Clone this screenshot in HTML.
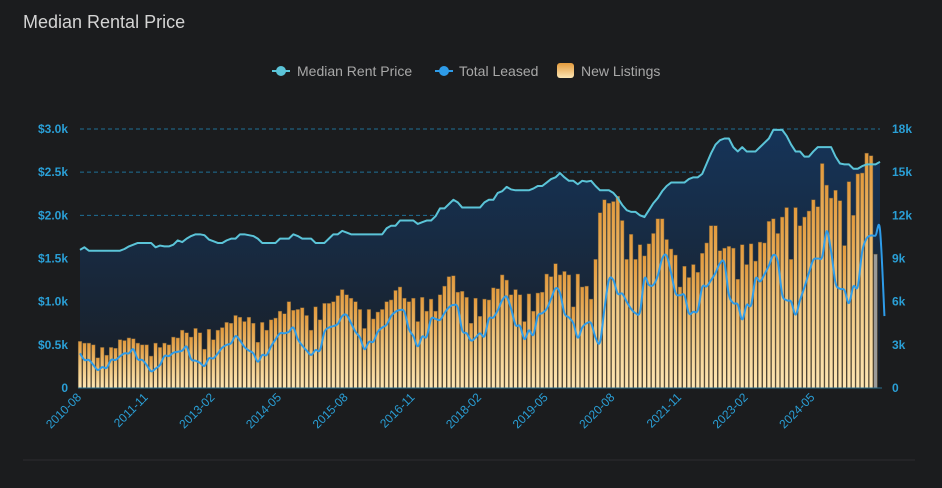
<!DOCTYPE html>
<html><head><meta charset="utf-8"><style>
html,body{margin:0;padding:0;background:#1b1c1e;}
body{width:942px;height:483px;overflow:hidden;font-family:"Liberation Sans","DejaVu Sans",sans-serif;}
</style></head><body>
<svg id="chart" width="942" height="483" xmlns="http://www.w3.org/2000/svg">
<defs>
<linearGradient id="barGrad" x1="0" y1="0" x2="0" y2="1">
<stop offset="0" stop-color="#e39a3c"/><stop offset="0.5" stop-color="#efc57e"/><stop offset="1" stop-color="#fde6b4"/>
</linearGradient>
<linearGradient id="areaGrad" x1="0" y1="0" x2="0" y2="1">
<stop offset="0" stop-color="#153459"/><stop offset="1" stop-color="#1a1e24"/>
</linearGradient>
<linearGradient id="legBar" x1="0" y1="0" x2="0" y2="1">
<stop offset="0" stop-color="#e39a3c"/><stop offset="1" stop-color="#fde6b4"/>
</linearGradient>
</defs>
<text x="23" y="28" fill="#d4d4d4" font-size="18">Median Rental Price</text>
<g>
<g>
<line x1="272" y1="71" x2="290" y2="71" stroke="#5bc4d8" stroke-width="2"/><circle cx="281" cy="71" r="5" fill="#5bc4d8"/>
<text x="297" y="76" fill="#a8a8a8" font-size="14">Median Rent Price</text></g>
<g>
<line x1="435" y1="71" x2="453" y2="71" stroke="#2e9be8" stroke-width="2"/><circle cx="444" cy="71" r="5" fill="#2e9be8"/>
<text x="459" y="76" fill="#a8a8a8" font-size="14">Total Leased</text></g>
<g>
<rect x="557" y="63" width="17" height="15" rx="3" fill="url(#legBar)"/>
<text x="581" y="76" fill="#a8a8a8" font-size="14">New Listings</text></g>
</g>
<g id="grid"></g><g id="area"></g><g id="bars"></g><g id="lines"></g><g id="axes"></g>
<line x1="23" y1="460" x2="915" y2="460" stroke="#2c2d30" stroke-width="1"/>
</svg>
<script>
const xLabels = ["2010-08","2011-11","2013-02","2014-05","2015-08","2016-11","2018-02","2019-05","2020-08","2021-11","2023-02","2024-05"];
const leftTicks = ["0","$0.5k","$1.0k","$1.5k","$2.0k","$2.5k","$3.0k"];
const rightTicks = ["0","3k","6k","9k","12k","15k","18k"];
const newListings = [0.54,0.52,0.52,0.50,0.35,0.47,0.38,0.47,0.46,0.56,0.55,0.58,0.57,0.52,0.50,0.50,0.37,0.52,0.47,0.52,0.50,0.59,0.58,0.67,0.64,0.59,0.69,0.64,0.45,0.68,0.56,0.67,0.70,0.76,0.75,0.84,0.82,0.77,0.82,0.75,0.53,0.76,0.67,0.79,
0.81,0.89,0.86,1.00,0.90,0.91,0.93,0.84,0.67,0.94,0.79,0.98,0.98,1.00,1.07,1.14,1.08,1.04,1.00,0.91,0.69,0.91,0.80,0.88,0.91,1.00,1.02,1.13,1.17,1.04,1.00,1.04,0.77,1.05,0.89,1.03,0.89,1.08,1.18,1.29,1.30,1.11,1.12,1.05,0.75,
1.04,0.83,1.03,1.02,1.16,1.15,1.31,1.25,1.08,1.14,1.08,0.77,1.09,0.89,1.10,1.11,1.32,1.29,1.44,1.31,1.35,1.31,0.94,1.32,1.17,1.18,1.03,1.49,2.03,2.18,2.14,2.16,2.22,1.94,1.49,1.78,1.49,1.66,1.53,1.67,1.79,1.96,1.96,1.72,1.61,1.54,
1.17,1.41,1.28,1.43,1.34,1.56,1.68,1.88,1.88,1.59,1.62,1.64,1.62,1.26,1.66,1.43,1.67,1.47,1.69,1.68,1.93,1.96,1.79,1.98,2.09,1.49,2.09,1.88,1.98,2.05,2.18,2.10,2.60,2.35,2.20,2.29,2.17,1.65,2.39,2.00,2.48,2.49,2.72,2.69,1.55];
const medianRent = [1.60,1.63,1.59,1.59,1.59,1.59,1.59,1.59,1.59,1.59,1.61,1.64,1.66,1.68,1.68,1.68,1.68,1.63,1.65,1.64,1.64,1.66,1.71,1.69,1.73,1.76,1.78,1.78,1.77,1.72,1.70,1.68,1.68,1.71,1.73,1.73,1.78,1.78,1.77,1.76,1.73,1.68,1.68,1.68,
1.68,1.73,1.73,1.73,1.78,1.76,1.73,1.73,1.73,1.68,1.68,1.68,1.73,1.78,1.78,1.82,1.80,1.78,1.78,1.78,1.78,1.78,1.78,1.78,1.78,1.85,1.88,1.88,1.94,1.94,1.94,1.94,1.90,1.92,1.94,1.94,1.99,2.08,2.08,2.13,2.18,2.15,2.09,2.09,2.09,
2.09,2.09,2.15,2.18,2.18,2.26,2.28,2.33,2.30,2.29,2.29,2.29,2.29,2.31,2.34,2.34,2.38,2.42,2.44,2.49,2.44,2.40,2.40,2.36,2.40,2.39,2.40,2.34,2.29,2.29,2.29,2.26,2.20,2.12,2.06,2.04,2.04,2.00,1.98,2.06,2.14,2.20,2.28,2.34,2.38,2.38,
2.38,2.38,2.42,2.44,2.44,2.48,2.60,2.72,2.82,2.87,2.89,2.89,2.79,2.74,2.79,2.74,2.74,2.74,2.79,2.84,2.89,2.99,2.99,2.99,2.92,2.82,2.74,2.74,2.68,2.68,2.74,2.79,2.79,2.79,2.79,2.68,2.60,2.59,2.59,2.54,2.54,2.57,2.59,2.59,2.59,2.62];
const totalLeased = [2.41,1.95,1.95,1.6,1.25,1.45,1.4,1.95,1.95,2.2,2.41,2.41,2.69,2.0,1.95,1.6,1.16,1.35,1.6,2.22,2.22,2.45,2.52,2.6,2.87,2.0,1.9,1.75,1.53,2.06,2.06,2.4,2.8,3.0,3.11,3.61,3.3,2.85,2.6,2.41,1.83,2.29,2.29,2.9,
3.38,3.8,3.8,3.9,4.2,3.4,2.95,2.6,2.3,2.64,2.64,3.9,4.2,4.3,4.45,5.0,5.07,4.5,3.9,3.5,2.7,3.2,3.22,3.9,4.2,4.4,5.0,5.3,5.42,5.3,4.1,3.6,2.9,3.57,3.57,4.8,4.8,4.73,5.2,5.6,5.77,5.6,4.0,3.8,3.3,
3.5,3.8,3.6,4.8,4.9,5.4,6.1,6.35,5.5,4.38,4.3,3.4,4.0,3.7,5.0,5.2,5.5,6.2,6.93,6.6,5.2,4.9,4.5,3.5,4.2,4.5,4.5,3.5,3.2,5.5,7.5,7.5,6.56,6.56,6.0,5.5,5.2,5.3,7.6,7.16,7.16,7.8,9.0,9.2,8.0,6.6,
6.44,6.44,5.2,5.3,5.4,7.0,7.06,7.5,8.0,8.67,8.67,6.5,5.9,5.8,4.77,5.77,5.77,7.6,7.4,7.9,8.5,9.24,8.8,6.5,6.1,6.0,5.1,6.1,7.0,8.0,8.9,9.0,9.13,10.9,9.5,7.3,6.9,6.8,5.9,7.06,7.06,9.5,10.4,10.6,10.6,11.0,5.0];

const NS="http://www.w3.org/2000/svg";
const X0=80, X1=880, Y0=388, Y1=129;
const N = medianRent.length;
function xScale(i){return X0 + i*(X1-X0)/(N-1);}
function yLeft(v){return Y0 - v/3.0*(Y0-Y1);}
function yRight(v){return Y0 - v/18*(Y0-Y1);}
function mk(tag,attrs,parent){const e=document.createElementNS(NS,tag);for(const k in attrs)e.setAttribute(k,attrs[k]);parent.appendChild(e);return e;}
function smoothPath(pts){
  let d='M'+pts[0][0].toFixed(2)+','+pts[0][1].toFixed(2);
  for(let i=0;i<pts.length-1;i++){
    const p0=pts[i-1]||pts[i],p1=pts[i],p2=pts[i+1],p3=pts[i+2]||p2;
    const c1x=p1[0]+(p2[0]-p0[0])/6,c1y=p1[1]+(p2[1]-p0[1])/6;
    const c2x=p2[0]-(p3[0]-p1[0])/6,c2y=p2[1]-(p3[1]-p1[1])/6;
    d+='C'+c1x.toFixed(2)+','+c1y.toFixed(2)+' '+c2x.toFixed(2)+','+c2y.toFixed(2)+' '+p2[0].toFixed(2)+','+p2[1].toFixed(2);
  }
  return d;
}
const grid=document.getElementById('grid'),axes=document.getElementById('axes');
leftTicks.forEach((t,i)=>{
  const y=Y0-i*(Y0-Y1)/6;
  if(i>0){const g=mk('line',{x1:X0,x2:X1,y1:y,y2:y,stroke:'#1f6f96','stroke-width':1,'stroke-dasharray':'4,3'},grid);
  
  }
  const tl=mk('text',{x:68,y:y+4,'text-anchor':'end',fill:'#2a9fd6','font-size':12,'font-weight':'bold'},axes);tl.textContent=t;
  
  
  const tr=mk('text',{x:892,y:y+4,'text-anchor':'start',fill:'#2a9fd6','font-size':12,'font-weight':'bold'},axes);tr.textContent=rightTicks[i];
  
  
});
let d='';medianRent.forEach((v,i)=>{d+=(i?'L':'M')+xScale(i).toFixed(2)+','+yLeft(v).toFixed(2);});
const area=mk('path',{d:d+'L'+X1+','+Y0+'L'+X0+','+Y0+'Z',fill:'url(#areaGrad)'},document.getElementById('area'));


const bars=document.getElementById('bars');
newListings.forEach((v,i)=>{
  const y=yLeft(v);
  const b=mk('rect',{x:(xScale(i)-1.8).toFixed(2),y:y.toFixed(2),width:3.6,height:(Y0-y).toFixed(2),fill:i===newListings.length-1?'#9a9a9a':'url(#barGrad)',stroke:'#6b5a3e','stroke-width':0.5},bars);
  
  
});
const lines=document.getElementById('lines');
const rl=mk('path',{d:d,fill:'none',stroke:'#5bc4d8','stroke-width':2,'stroke-linejoin':'round'},lines);


const pts=totalLeased.map((v,i)=>[xScale(i),yRight(v)]);
const tl=mk('path',{d:smoothPath(pts),fill:'none',stroke:'#2e9be8','stroke-width':2,'stroke-linejoin':'round'},lines);


const base=mk('line',{x1:X0-2,x2:X1+2,y1:Y0,y2:Y0,stroke:'#2a6f90','stroke-width':1},axes);


xLabels.forEach((t,k)=>{
  const x=xScale(k*15);
  const lb=mk('text',{x:x+2,y:Y0+10,'text-anchor':'end',fill:'#2a9fd6','font-size':12,transform:'rotate(-45 '+(x+2)+' '+(Y0+10)+')'},axes);
  lb.textContent=t;
  
  
});
</script>
</body></html>
